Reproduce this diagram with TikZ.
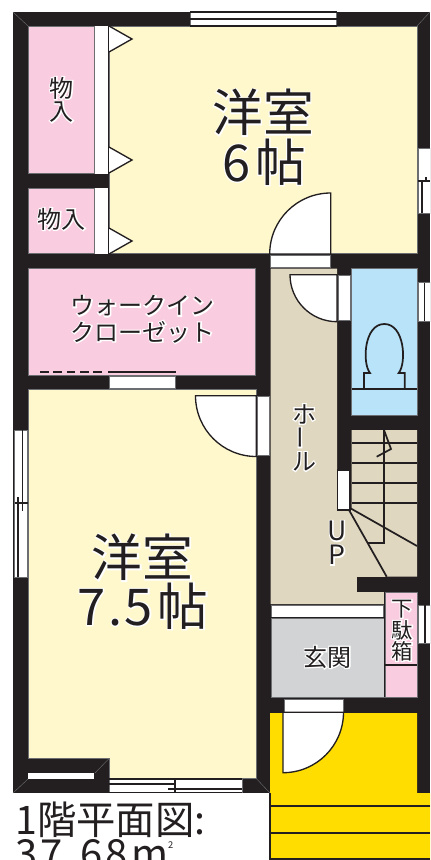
\documentclass[tikz,border=0pt]{standalone}
\usepackage{fontspec}
\usepackage{graphicx}
\setmainfont{Noto Sans CJK JP}
\definecolor{wallc}{HTML}{231F20}
\definecolor{roomy}{HTML}{FFF8CC}
\definecolor{roomp}{HTML}{F9CCE0}
\definecolor{roomb}{HTML}{DFD7C0}
\definecolor{rooml}{HTML}{B8E3F8}
\definecolor{roomg}{HTML}{D1D3D4}
\definecolor{porch}{HTML}{FFDD00}
\definecolor{edgec}{HTML}{6D6E71}
\newcommand{\halo}[1]{\leavevmode\rlap{\special{pdf:code q 1 1 1 RG 1 1 1 rg 1.8 w 2 Tr}#1\special{pdf:code 0 Tr Q}}#1}
\tikzset{
  x=0.75pt,y=-0.75pt,
  room/.style={draw=edgec,line width=0.5pt},
  line/.style={draw=wallc,line width=1pt},
  thick line/.style={draw=wallc,line width=1.3pt},
  opening/.style={fill=white,draw=edgec,line width=0.5pt},
  leaf/.style={fill=white,draw=wallc,line width=1pt},
  miter/.style={draw=edgec,line width=0.3pt},
  label/.style={text=wallc,inner sep=0pt,align=center},
}
\begin{document}
\begin{tikzpicture}
\useasboundingbox (0,0) rectangle (430,860);
\clip (0,0) rectangle (430,860);
\fill[white] (0,0) rectangle (430,860);
% walls
\fill[wallc] (13,12) rectangle (430,793);
% porch
\fill[porch] (270,713) -- (417,713) -- (417,793) -- (430,793) -- (430,860) -- (270,860) -- cycle;
\draw[line] (270,793) -- (270,860);
\draw[line] (270,806) -- (430,806);
\draw[line] (270,833) -- (430,833);
\draw[line] (270,859) -- (430,859);
% rooms
\path[room,fill=roomy] (109,26) rectangle (417,253.5);
\path[room,fill=roomp] (28,26) rectangle (94.5,173.5);
\path[room,fill=roomp] (28,188) rectangle (94.5,253.5);
\path[room,fill=roomp] (28,268.5) rectangle (255.5,375);
\path[room,fill=roomy] (28,389.5) -- (256,389.5) -- (256,778) -- (109,778) -- (109,758.5) -- (28,758.5) -- cycle;
\path[fill=roomb] (270.5,268.5) -- (337,268.5) -- (337,510) -- (351.5,510) -- (351.5,430) -- (417,430) -- (417,576.7) -- (385,576.7) -- (385,604) -- (270.5,604) -- cycle;
\path[room,fill=rooml] (351.5,268.5) rectangle (417,415);
\path[room,fill=roomg] (271,618) rectangle (384,697);
\path[room,fill=roomp] (385,592) rectangle (417,697);
% stub wall by the stairs
\fill[wallc] (356.7,576.7) rectangle (417,591.7);
% shoe cupboard and hall strip
\draw[line] (385,665) -- (417,665);
\draw[thick line] (384.5,592) -- (384.5,697);
\draw[opening] (271,605) rectangle (383.5,617);
\draw[thick line] (271,617.5) -- (384,617.5);
% closets
\fill[white] (95,26) rectangle (108,173.5);
\fill[white] (95,188) rectangle (108,253.5);
\draw[line] (108.5,26) -- (108.5,173.5);
\draw[line] (108.5,188) -- (108.5,253.5);
\draw[leaf] (109,26) -- (132,39) -- (109,52);
\draw[leaf] (109,147) -- (132,160) -- (109,173);
\draw[leaf] (109,228) -- (132,241) -- (109,254);
\fill[white] (28,773) rectangle (94,778.5);
% closet track
\draw[line,dash pattern=on 6.5pt off 3.5pt] (40,372) -- (103,372);
\draw[line] (108,372) -- (176,372);
\draw[opening] (109,376) rectangle (175,388);
% top window
\draw[opening] (190,12) rectangle (336.5,26);
\draw[line] (190,12) -- (336.5,12);
\draw[line] (190,19) -- (336.5,19);
\draw[line] (190,26) -- (336.5,26);
% right upper window
\draw[opening] (418,148) rectangle (430,213);
\draw[line] (422,181) -- (422,213);
\draw[line] (426,177) -- (426,181);
\draw[line] (418,181) -- (430,181);
% toilet window
\draw[opening] (418,282.5) rectangle (430,321);
\draw[line] (424.5,282.5) -- (424.5,321);
% shoe window
\draw[opening] (418.5,605) rectangle (430,643);
\draw[line] (425,605) -- (425,643);
% left window
\draw[opening] (14.5,430) rectangle (27.5,577);
\draw[line] (22.7,430) -- (22.7,511);
\draw[line] (18,497) -- (18,577);
\draw[line] (14.5,503) -- (27.5,503);
% bottom window
\draw[opening] (109,779) rectangle (242,792.5);
\draw[line] (109,779) -- (242,779);
\draw[line] (109,784) -- (176,784);
\draw[line] (168,789) -- (242,789);
\draw[line] (175,779) -- (175,793);
\draw[line] (109,792.5) -- (242,792.5);
% door 6-jo
\draw[opening] (270,255.5) rectangle (330,267.5);
\draw[leaf] (269.7,254) .. controls (269.7,220.3) and (297,193) .. (330.7,193) -- (330.7,254) -- cycle;
% door 7.5-jo
\draw[opening] (257,396) rectangle (269,455.7);
\draw[leaf] (195.5,395.7) .. controls (195.5,429.3) and (222.7,456.5) .. (256.3,456.5) -- (256.3,395.7) -- cycle;
% door toilet
\draw[opening] (338,275) rectangle (350,320.5);
\draw[leaf] (290,274.7) .. controls (290,300.7) and (311,321.7) .. (337,321.7) -- (337,274.7) -- cycle;
% entrance door
\draw[opening] (284,699) rectangle (343,712);
\draw[leaf] (283,772.7) .. controls (316.4,772.7) and (343.5,745.6) .. (343.5,712.2) -- (283,712.2) -- cycle;
% toilet
\draw[thick line] (351.5,388.7) -- (417,388.7);
\draw[thick line] (364,388.7) -- (364,373) -- (370,373) .. controls (362,363) and (364,324) .. (384.3,324) .. controls (404.7,324) and (406.7,363) .. (398.7,373) -- (404.7,373) -- (404.7,388.7);
% stairs
\foreach \yy in {442.7,462.7,483.3,503.3} \draw[thick line] (351.5,\yy) -- (417,\yy);
\draw[thick line] (384.3,430) -- (384.3,543) -- (368,543);
\draw[thick line] (384,430) -- (391,449) -- (376.7,456.7);
\draw[thick line] (350,508) -- (417,546);
\draw[thick line] (349,510) -- (386.7,576.7);
\path[fill=white,draw=wallc,line width=1.2pt] (337.5,470) rectangle (350,510);
% miter lines
\draw[miter] (13,12) -- (28,26);
\draw[miter] (430,12) -- (417,26);
\draw[miter] (13,793) -- (28,779);
\draw[miter] (95,773) -- (109,758.5);
\draw[miter] (256.7,779) -- (270,793);
% labels
\node[label,font=\fontsize{38pt}{38pt}\selectfont] (r6a) at (263,112.5) {\halo{洋室}};
\node[label,font=\fontsize{38pt}{38pt}\selectfont] (r6b) at (264,162) {\halo{6\kern0.1em 帖}};
\node[label,font=\fontsize{38pt}{38pt}\selectfont] (r75a) at (142.5,557.5) {\halo{洋室}};
\node[label,font=\fontsize{38pt}{38pt}\selectfont] (r75b) at (143,606) {\halo{7\kern0.05em.\kern0.05em 5\kern0.1em 帖}};
\node[label,font=\fontsize{18pt}{18pt}\selectfont] (k1a) at (61.5,88) {\halo{物}};
\node[label,font=\fontsize{18pt}{18pt}\selectfont] (k1b) at (61.5,112) {\halo{入}};
\node[label,font=\fontsize{18pt}{18pt}\selectfont] (k2) at (61.5,219) {\halo{物入}};
\node[label,font=\fontsize{18pt}{18pt}\selectfont] (w1) at (142.5,306) {\halo{ウォークイン}};
\node[label,font=\fontsize{18pt}{18pt}\selectfont] (w2) at (142.5,332) {\halo{クローゼット}};
\node[label,font=\fontsize{18pt}{18pt}\selectfont] (h1) at (304,414) {\halo{ホ}};
\node[label,font=\fontsize{18pt}{18pt}\selectfont] (h2) at (304,437.5) {\halo{\rotatebox{90}{ー}}};
\node[label,font=\fontsize{18pt}{18pt}\selectfont] (h3) at (304,461.5) {\halo{ル}};
\node[label,font=\fontsize{20pt}{20pt}\selectfont] (u1) at (337,531) {\halo{U}};
\node[label,font=\fontsize{20pt}{20pt}\selectfont] (u2) at (337,555) {\halo{P}};
\node[label,font=\fontsize{16pt}{16pt}\selectfont] (s1) at (402,609) {\halo{下}};
\node[label,font=\fontsize{16pt}{16pt}\selectfont] (s2) at (402,630) {\halo{駄}};
\node[label,font=\fontsize{16pt}{16pt}\selectfont] (s3) at (402,651) {\halo{箱}};
\node[label,font=\fontsize{18pt}{18pt}\selectfont] (g) at (327.5,657) {\halo{玄関}};
\node[label,anchor=west,font=\fontsize{29.5pt}{29.5pt}\selectfont] (t1) at (15,820) {1階平面図:};
\node[label,anchor=base west,font=\fontsize{30pt}{30pt}\selectfont\addfontfeatures{LetterSpace=8}] (t2) at (15,868) {37.68m\raisebox{0.5em}{\fontsize{7pt}{7pt}\selectfont 2}};
\end{tikzpicture}
\end{document}
